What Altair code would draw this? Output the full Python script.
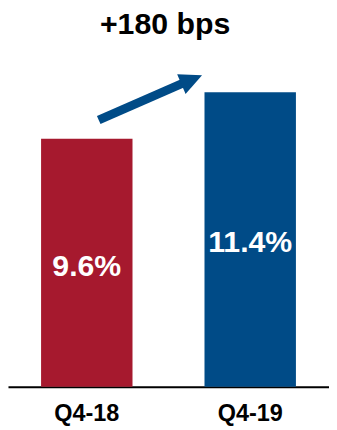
import altair as alt
import pandas as pd

# ---- data ----
quarters = ["Q4-18", "Q4-19"]
values = [9.6, 11.4]
value_labels = ["9.6%", "11.4%"]
bar_colors = ["#A6192E", "#004B87"]

# headline annotation: text, position in category-index units / value units
headline = ["+180 bps"]
headline_x = [0.479]
headline_y = [13.67]

# arrow annotation in "category index" units (0 = Q4-18, 1 = Q4-19) and value units
arrow_x_start = [0.073]
arrow_x_end = [0.587]
arrow_head_x = [0.642]
arrow_y_start = [10.33]
arrow_y_end = [11.75]
arrow_head_y = [11.89]

ARROW_BLUE = "#004B87"
FONT = "Liberation Sans"

bars_df = pd.DataFrame({
    "quarter": quarters,
    "value": values,
    "label": value_labels,
    "color": bar_colors,
})
arrow_df = pd.DataFrame({
    "x0": arrow_x_start,
    "x1": arrow_x_end,
    "xh": arrow_head_x,
    "y0": arrow_y_start,
    "y1": arrow_y_end,
    "yh": arrow_head_y,
})
head_df = pd.DataFrame({"text": headline, "x": headline_x, "y": headline_y})

x_scale = alt.Scale(domain=quarters, paddingInner=0.4405, paddingOuter=0.2024)
# index scale aligned with the band centres (0 -> Q4-18, 1 -> Q4-19)
idx_scale = alt.Scale(domain=[-0.4821, 1.4821], nice=False, zero=False)
y_scale = alt.Scale(domain=[0, 12.88], nice=False, zero=True)
x_axis = alt.Axis(
    title=None, labelAngle=0, ticks=False, domain=True, domainColor="#000000",
    domainWidth=2, labelFont=FONT, labelFontWeight="bold", labelFontSize=24,
    labelColor="#000000", labelPadding=16,
)

base = alt.Chart(bars_df)

bars = base.mark_bar().encode(
    x=alt.X("quarter:N", scale=x_scale, axis=x_axis, sort=quarters),
    y=alt.Y("value:Q", scale=y_scale, axis=None),
    color=alt.Color("color:N", scale=None, legend=None),
)

labels = base.transform_calculate(mid="datum.value / 2").mark_text(
    color="white", font=FONT, fontWeight="bold", fontSize=31,
    baseline="middle", align="center", dy=4,
).encode(
    x=alt.X("quarter:N", scale=x_scale, axis=x_axis, sort=quarters),
    y=alt.Y("mid:Q", scale=y_scale, axis=None),
    text="label:N",
)

bar_layer = alt.layer(bars, labels)

shaft = alt.Chart(arrow_df).mark_rule(
    color=ARROW_BLUE, strokeWidth=9, strokeCap="butt"
).encode(
    x=alt.X("x0:Q", scale=idx_scale, axis=None),
    x2=alt.X2("x1"),
    y=alt.Y("y0:Q", scale=y_scale, axis=None),
    y2=alt.Y2("y1"),
)

head = alt.Chart(arrow_df).mark_point(
    shape="M1,0L-1,-0.96L-1,0.96Z", filled=True, size=529, angle=337,
    color=ARROW_BLUE, opacity=1, strokeWidth=0,
).encode(
    x=alt.X("xh:Q", scale=idx_scale, axis=None),
    y=alt.Y("yh:Q", scale=y_scale, axis=None),
)

title_text = alt.Chart(head_df).mark_text(
    font=FONT, fontSize=31, fontWeight="bold", color="#000000",
    align="center", baseline="alphabetic",
).encode(
    x=alt.X("x:Q", scale=idx_scale, axis=None),
    y=alt.Y("y:Q", scale=y_scale, axis=None),
    text="text:N",
)

arrow_layer = alt.layer(shaft, head, title_text)

chart = alt.layer(bar_layer, arrow_layer).resolve_scale(x="independent").properties(
    width=329,
    height=341,
    background="white",
    autosize=alt.AutoSizeParams(type="none"),
    padding={"left": 0, "top": 42, "right": 0, "bottom": 39},
).configure_view(stroke=None, strokeWidth=0)

chart.save("out.html", embed_options={"renderer": "svg", "actions": False})
